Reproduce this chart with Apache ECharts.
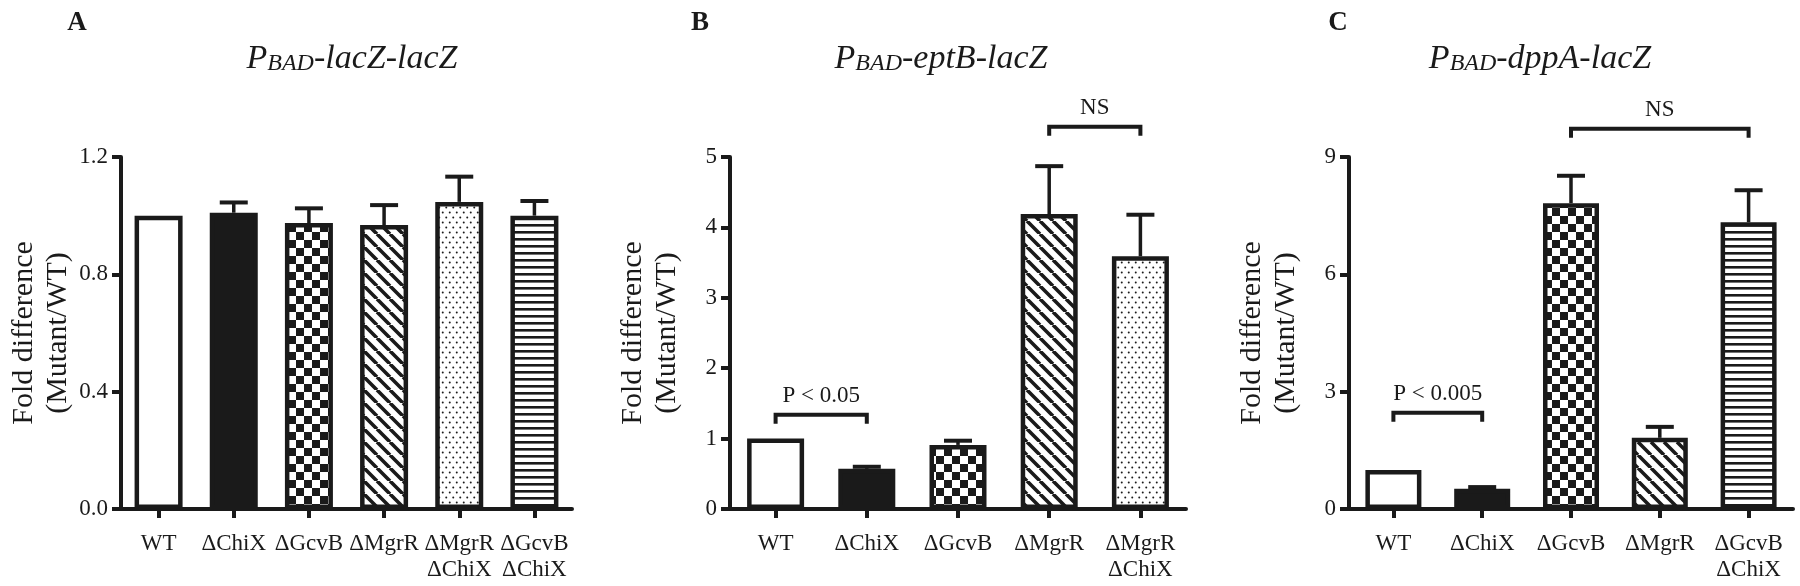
<!DOCTYPE html>
<html><head><meta charset="utf-8">
<script src="https://cdn.jsdelivr.net/npm/echarts@6/dist/echarts.min.js"></script>
<style>html,body{margin:0;padding:0;background:#fff}#c{width:1800px;height:586px}</style>
</head><body><div id="c"></div>
<script>
// ---------- data ----------
const catsA = ['WT', 'ΔChiX', 'ΔGcvB', 'ΔMgrR', 'ΔMgrR\nΔChiX', 'ΔGcvB\nΔChiX'];
const valsA = [1.0, 1.01, 0.975, 0.968, 1.047, 1.0];
const errsA = [0, 0.035, 0.05, 0.068, 0.086, 0.05];
const yTicksA = ['0.0', '0.4', '0.8', '1.2'];

const catsB = ['WT', 'ΔChiX', 'ΔGcvB', 'ΔMgrR', 'ΔMgrR\nΔChiX'];
const valsB = [1.0, 0.57, 0.91, 4.19, 3.59];
const errsB = [0, 0.03, 0.06, 0.68, 0.59];
const yTicksB = ['0', '1', '2', '3', '4', '5'];

const catsC = ['WT', 'ΔChiX', 'ΔGcvB', 'ΔMgrR', 'ΔGcvB\nΔChiX'];
const valsC = [1.0, 0.52, 7.82, 1.82, 7.33];
const errsC = [0, 0.04, 0.7, 0.28, 0.82];
const yTicksC = ['0', '3', '6', '9'];

const bracketsA = [];
const bracketsB = [
  { from: 'WT', to: 'ΔChiX', y: 1.34, text: 'P < 0.05' },
  { from: 'ΔMgrR', to: 'ΔMgrR\nΔChiX', y: 5.43, text: 'NS' }
];
const bracketsC = [
  { from: 'WT', to: 'ΔChiX', y: 2.46, text: 'P < 0.005' },
  { from: 'ΔGcvB', to: 'ΔGcvB\nΔChiX', y: 9.72, text: 'NS' }
];

const panelLetters = ['A', 'B', 'C'];
const titleGenes = ['lacZ-lacZ', 'eptB-lacZ', 'dppA-lacZ'];
const yName = 'Fold difference\n(Mutant/WT)';

// ---------- styles ----------
const INK = '#1a1a1a';
const FONT = '"Liberation Serif", "Times New Roman", serif';

function tile(w, h, draw) {
  const c = document.createElement('canvas');
  c.width = w; c.height = h;
  const g = c.getContext('2d');
  g.fillStyle = '#fff'; g.fillRect(0, 0, w, h);
  g.fillStyle = INK; g.strokeStyle = INK;
  draw(g, w, h);
  return { image: c, repeat: 'repeat' };
}
const patterns = {
  white: '#ffffff',
  solid: INK,
  checker: tile(16, 16, (g) => { g.fillRect(0, 0, 8, 8); g.fillRect(8, 8, 8, 8); }),
  diag: tile(13, 13, (g, w, h) => {
    g.lineWidth = 3.6;
    g.beginPath();
    for (let k = -1; k <= 1; k++) { g.moveTo(k * w, 0); g.lineTo(k * w + w, h); }
    g.stroke();
  }),
  dots: tile(7, 10, (g) => {
    g.beginPath(); g.arc(1.75, 2.5, 1.0, 0, Math.PI * 2); g.fill();
    g.beginPath(); g.arc(5.25, 7.5, 1.0, 0, Math.PI * 2); g.fill();
  }),
  hstripe: tile(8, 7, (g, w) => { g.fillRect(0, 0, w, 2.6); })
};
const patternOf = {
  'WT': 'white', 'ΔChiX': 'solid', 'ΔGcvB': 'checker', 'ΔMgrR': 'diag',
  'ΔMgrR\nΔChiX': 'dots', 'ΔGcvB\nΔChiX': 'hstripe'
};

const panels = [
  { cats: catsA, vals: valsA, errs: errsA, ticks: yTicksA, br: bracketsA,
    grid: { left: 121, top: 157, width: 451, height: 352 }, barW: 48, dec: 1,
    letter: [77, 10], title: [352, 40] },
  { cats: catsB, vals: valsB, errs: errsB, ticks: yTicksB, br: bracketsB,
    grid: { left: 730, top: 157, width: 456, height: 352 }, barW: 57, dec: 0,
    letter: [700, 10], title: [941, 40] },
  { cats: catsC, vals: valsC, errs: errsC, ticks: yTicksC, br: bracketsC,
    grid: { left: 1349, top: 157, width: 444, height: 352 }, barW: 56, dec: 0,
    letter: [1338, 10], title: [1540, 40] }
];

const grids = [], xAxes = [], yAxes = [], series = [], titles = [];
panels.forEach((p, i) => {
  grids.push(Object.assign({ containLabel: false }, p.grid));
  xAxes.push({
    type: 'category', gridIndex: i, data: p.cats,
    axisLine: { show: true, lineStyle: { color: INK, width: 4 } },
    axisTick: { show: true, alignWithLabel: true, length: 9, lineStyle: { color: INK, width: 4 } },
    axisLabel: { interval: 0, color: INK, fontFamily: FONT, fontSize: 23, lineHeight: 26, margin: 22 },
    splitLine: { show: false }
  });
  const tickNums = p.ticks.map(Number);
  yAxes.push({
    type: 'value', gridIndex: i,
    min: tickNums[0], max: tickNums[tickNums.length - 1], interval: tickNums[1] - tickNums[0],
    axisLine: { show: true, lineStyle: { color: INK, width: 4 } },
    axisTick: { show: true, length: 9, lineStyle: { color: INK, width: 4 } },
    axisLabel: { color: INK, fontFamily: FONT, fontSize: 23, margin: 13,
      formatter: (v) => v.toFixed(p.dec) },
    splitLine: { show: false },
    name: yName, nameLocation: 'middle', nameGap: 46,
    nameTextStyle: { color: INK, fontFamily: FONT, fontSize: 30, lineHeight: 34 }
  });
  series.push({
    type: 'bar', xAxisIndex: i, yAxisIndex: i, barWidth: p.barW, silent: true,
    data: p.vals.map((v, k) => ({
      value: v,
      itemStyle: { color: patterns[patternOf[p.cats[k]]], borderColor: INK, borderWidth: 4.5 }
    })),
    z: 2
  });
  series.push({
    type: 'custom', xAxisIndex: i, yAxisIndex: i, silent: true, z: 3, clip: false,
    encode: { x: 0, y: 1 },
    data: p.cats.map((c, k) => [k, p.vals[k], p.errs[k]]),
    renderItem: (params, api) => {
      const e = api.value(2);
      if (!e) return null;
      const x = api.value(0), v = api.value(1);
      const p0 = api.coord([x, v]), p1 = api.coord([x, v + e]);
      return { type: 'group', children: [
        { type: 'line', shape: { x1: p0[0], y1: p0[1], x2: p1[0], y2: p1[1] }, style: { stroke: INK, lineWidth: 3.5 } },
        { type: 'line', shape: { x1: p1[0] - 14, y1: p1[1], x2: p1[0] + 14, y2: p1[1] }, style: { stroke: INK, lineWidth: 4 } }
      ] };
    }
  });
  if (p.br.length) {
    series.push({
      type: 'custom', xAxisIndex: i, yAxisIndex: i, silent: true, z: 4, clip: false,
      encode: { x: [0, 1], y: 2 },
      data: p.br.map(b => [p.cats.indexOf(b.from), p.cats.indexOf(b.to), b.y]),
      renderItem: (params, api) => {
        const a = api.coord([api.value(0), api.value(2)]);
        const b = api.coord([api.value(1), api.value(2)]);
        const hook = 9;
        return { type: 'group', children: [
          { type: 'polyline', shape: { points: [[a[0], a[1] + hook], [a[0], a[1]], [b[0], b[1]], [b[0], b[1] + hook]] },
            style: { stroke: INK, lineWidth: 4, fill: null } },
          { type: 'text', x: (a[0] + b[0]) / 2, y: a[1] - 7,
            style: { text: p.br[params.dataIndex].text, align: 'center', verticalAlign: 'bottom',
              font: '23px ' + FONT, fill: INK } }
        ] };
      }
    });
  }
  titles.push({
    text: panelLetters[i], left: p.letter[0], top: p.letter[1], textAlign: 'center', padding: 0,
    textStyle: { color: INK, fontFamily: FONT, fontWeight: 'bold', fontSize: 27 }
  });
  titles.push({
    text: '{p|P}{s|BAD}{p|-' + titleGenes[i] + '}', left: p.title[0], top: p.title[1], textAlign: 'center', padding: 0,
    textStyle: { fontWeight: 'normal', fontStyle: 'italic', fontFamily: FONT, color: INK, rich: {
      p: { color: INK, fontFamily: FONT, fontStyle: 'italic', fontWeight: 'normal', fontSize: 34, verticalAlign: 'bottom', lineHeight: 36 },
      s: { color: INK, fontFamily: FONT, fontStyle: 'italic', fontWeight: 'normal', fontSize: 24, verticalAlign: 'bottom', lineHeight: 33 }
    } }
  });
});

const chart = echarts.init(document.getElementById('c'), null, { renderer: 'canvas' });
chart.setOption({
  animation: false,
  backgroundColor: '#fff',
  title: titles,
  grid: grids, xAxis: xAxes, yAxis: yAxes, series: series,
  tooltip: { show: false }
});
</script>
</body></html>
